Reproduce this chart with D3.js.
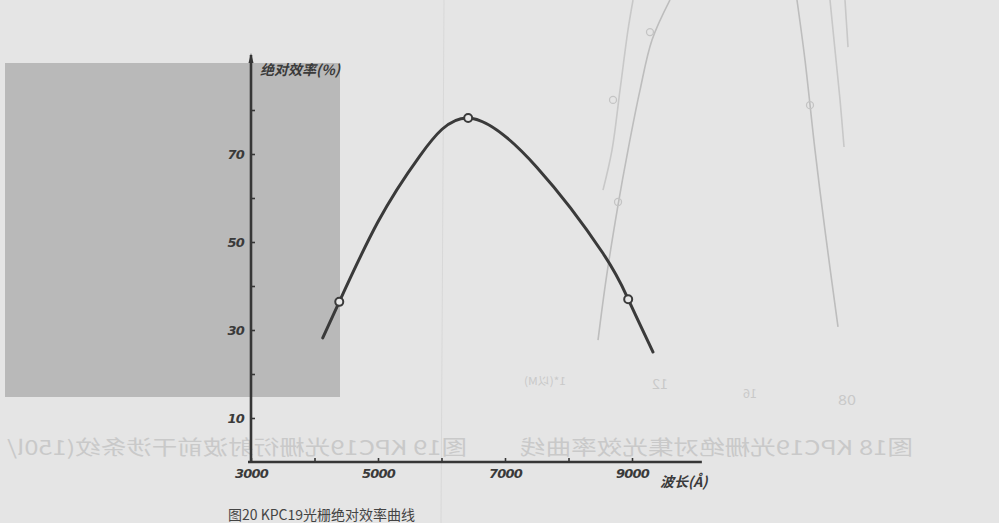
<!DOCTYPE html>
<html>
<head>
<meta charset="utf-8">
<script src="https://cdn.jsdelivr.net/npm/d3@7"></script>
<style>
  body { margin: 0; background: #e5e5e5; }
  svg { display: block; }
</style>
</head>
<body>
<div id="chart"></div>
<script>
// efficiency curve (wavelength in Å, absolute efficiency in %)
var curveWl  = [4130, 4390, 5000, 5660, 6420, 7500, 8540, 8940, 9330];
var curveEff = [28.2, 36.4, 54.6, 69.6, 78.2, 67.0, 47.5, 37.0, 25.0];

// measured points (open circles)
var pointWl  = [4390, 6420, 8940];
var pointEff = [36.4, 78.2, 37.0];

// axis ticks
var xTicks = [3000, 4000, 5000, 6000, 7000, 8000, 9000];
var xLabels = [3000, 5000, 7000, 9000];
var yTicks = [10, 20, 30, 40, 50, 60, 70, 80];
var yLabels = [10, 30, 50, 70];

// faint show-through lines from the facing page, in the same units
var ghostA = [[9016, 105], [8937, 98.2], [8811, 84.5], [8685, 70.9], [8543, 61.8]];
var ghostB = [[9598, 105], [9315, 95.9], [9126, 84.5], [8937, 70.9], [8780, 58.4], [8591, 41.4], [8465, 27.7]];
var ghostC = [[11598, 105], [11724, 91.4], [11882, 70.9], [12039, 52.7], [12244, 30.7]];
var ghostD = [[12118, 105], [12197, 93.6], [12276, 82.3], [12339, 71.6]];
var ghostE = [[12354, 105], [12402, 94.3]];
var ghostDots = [[8701, 82.3], [9283, 97.7], [8780, 59.1], [11803, 81.1]];

var width = 999, height = 523;

var svg = d3.select("#chart")
    .append("svg")
    .attr("width", width)
    .attr("height", height);

// paper
svg.append("rect")
    .attr("width", width)
    .attr("height", height)
    .attr("fill", "#e5e5e5");

// grey block showing through on the left
svg.append("rect")
    .attr("x", 5).attr("y", 63)
    .attr("width", 335).attr("height", 334)
    .attr("fill", "#b9b9b9");

// faint fold line
svg.append("line")
    .attr("x1", 444).attr("x2", 441)
    .attr("y1", 0).attr("y2", height)
    .attr("stroke", "#d8d8d8")
    .attr("stroke-width", 1);

var x = d3.scaleLinear()
    .domain([3000, 9000])
    .range([251, 632]);

var y = d3.scaleLinear()
    .domain([0, 70])
    .range([462, 154]);

var ghostLine = d3.line()
    .x(function (d) { return x(d[0]); })
    .y(function (d) { return y(d[1]); })
    .curve(d3.curveCatmullRom.alpha(0.5));

var line = d3.line()
    .x(function (d) { return x(d[0]); })
    .y(function (d) { return y(d[1]); })
    .curve(d3.curveNatural);

// show-through lines (mirrored page behind)
[ghostA, ghostB, ghostC, ghostD, ghostE].forEach(function (g, i) {
    svg.append("path")
        .attr("d", ghostLine(g))
        .attr("fill", "none")
        .attr("stroke", i == 1 || i == 2 ? "#bdbdbd" : "#c8c8c8")
        .attr("stroke-width", 1.6);
});
svg.selectAll("ghostdot")
    .data(ghostDots)
    .enter()
    .append("circle")
    .attr("cx", function (d) { return x(d[0]); })
    .attr("cy", function (d) { return y(d[1]); })
    .attr("r", 3.5)
    .attr("fill", "none")
    .attr("stroke", "#c4c4c4")
    .attr("stroke-width", 1.3);

// mirrored captions from the other side of the sheet
var ghostText = [
    { t: "图18  KPC19光栅绝对集光效率曲线", right: 913, w: 393, y: 455, s: 20 },
    { t: "图19  KPC19光栅衍射波前干涉条纹(150l/", right: 467, w: 460, y: 455, s: 20 },
    { t: "12", right: 668, w: 16, y: 389, s: 13 },
    { t: "16", right: 757, w: 14, y: 398, s: 12 },
    { t: "08", right: 856, w: 18, y: 405, s: 13 },
    { t: "1*(以M)", right: 566, w: 42, y: 385, s: 11 }
];
ghostText.forEach(function (g) {
    svg.append("text")
        .attr("transform", "translate(" + g.right + "," + g.y + ") scale(-1,1)")
        .attr("textLength", g.w)
        .attr("lengthAdjust", "spacingAndGlyphs")
        .style("font-family", "'Noto Sans CJK SC', 'Noto Sans', sans-serif")
        .style("font-size", g.s + "px")
        .style("fill", "#c9c9c9")
        .text(g.t);
});

// axes
var axisColor = "#363636";
var xMax = 10100, yMax = 92.5;

var xAxis = svg.append("g")
    .attr("transform", "translate(0," + y(0) + ")")
    .call(d3.axisBottom(x)
        .tickValues(xTicks)
        .tickSizeInner(-4)
        .tickSizeOuter(0)
        .tickPadding(7)
        .tickFormat(function (d) { return xLabels.indexOf(d) >= 0 ? d : ""; }));
xAxis.select(".domain").remove();

var yAxis = svg.append("g")
    .attr("transform", "translate(" + x(3000) + ",0)")
    .call(d3.axisLeft(y)
        .tickValues(yTicks)
        .tickSizeInner(-4)
        .tickSizeOuter(0)
        .tickPadding(7)
        .tickFormat(function (d) { return yLabels.indexOf(d) >= 0 ? d : ""; }));
yAxis.select(".domain").remove();

[xAxis, yAxis].forEach(function (a) {
    a.selectAll("line").attr("stroke", axisColor).attr("stroke-width", 1.6);
    a.selectAll("text")
        .style("font-family", "'DejaVu Sans', sans-serif")
        .style("font-style", "italic")
        .style("font-weight", "bold")
        .style("font-size", "13px")
        .style("letter-spacing", "-0.8px")
        .style("fill", "#3a3a3a");
});

svg.append("line")
    .attr("x1", x(3000) - 3).attr("x2", x(xMax))
    .attr("y1", y(0)).attr("y2", y(0))
    .attr("stroke", axisColor)
    .attr("stroke-width", 2.6);
svg.append("line")
    .attr("x1", x(3000)).attr("x2", x(3000))
    .attr("y1", y(0) + 1).attr("y2", y(yMax))
    .attr("stroke", axisColor)
    .attr("stroke-width", 2.6);
// arrow tip
svg.append("path")
    .attr("d", "M" + (x(3000) - 2.5) + "," + (y(yMax) + 8) + "L" + x(3000) + "," + (y(yMax) - 2) +
        "L" + (x(3000) + 2.5) + "," + (y(yMax) + 8) + "Z")
    .attr("fill", axisColor);

// axis titles
svg.append("text")
    .attr("x", x(3000) + 9)
    .attr("y", y(yMax) + 20)
    .style("font-family", "'Noto Sans CJK SC', sans-serif")
    .style("font-style", "italic")
    .style("font-weight", "bold")
    .style("font-size", "14px")
    .style("fill", "#3a3a3a")
    .text("绝对效率(%)");

svg.append("text")
    .attr("x", 660)
    .attr("y", y(0) + 25)
    .style("font-family", "'Noto Sans CJK SC', sans-serif")
    .style("font-style", "italic")
    .style("font-size", "14px")
    .style("font-weight", "bold")
    .style("fill", "#3a3a3a")
    .text("波长(Å)");

// efficiency curve
var curveData = curveWl.map(function (w, i) { return [w, curveEff[i]]; });
svg.append("path")
    .datum(curveData)
    .attr("d", line)
    .attr("fill", "none")
    .attr("stroke", "#3a3a3a")
    .attr("stroke-width", 3)
    .attr("stroke-linecap", "round");

// measured points
svg.selectAll("mypoint")
    .data(pointWl.map(function (w, i) { return [w, pointEff[i]]; }))
    .enter()
    .append("circle")
    .attr("cx", function (d) { return x(d[0]); })
    .attr("cy", function (d) { return y(d[1]); })
    .attr("r", 4)
    .attr("fill", "#e8e8e8")
    .attr("stroke", "#3a3a3a")
    .attr("stroke-width", 2);

// caption at the bottom edge
svg.append("text")
    .attr("x", 228)
    .attr("y", 520)
    .style("font-family", "'Noto Sans CJK SC', sans-serif")
    .style("font-size", "14px")
    .style("fill", "#444")
    .text("图20    KPC19光栅绝对效率曲线");
</script>
</body>
</html>
